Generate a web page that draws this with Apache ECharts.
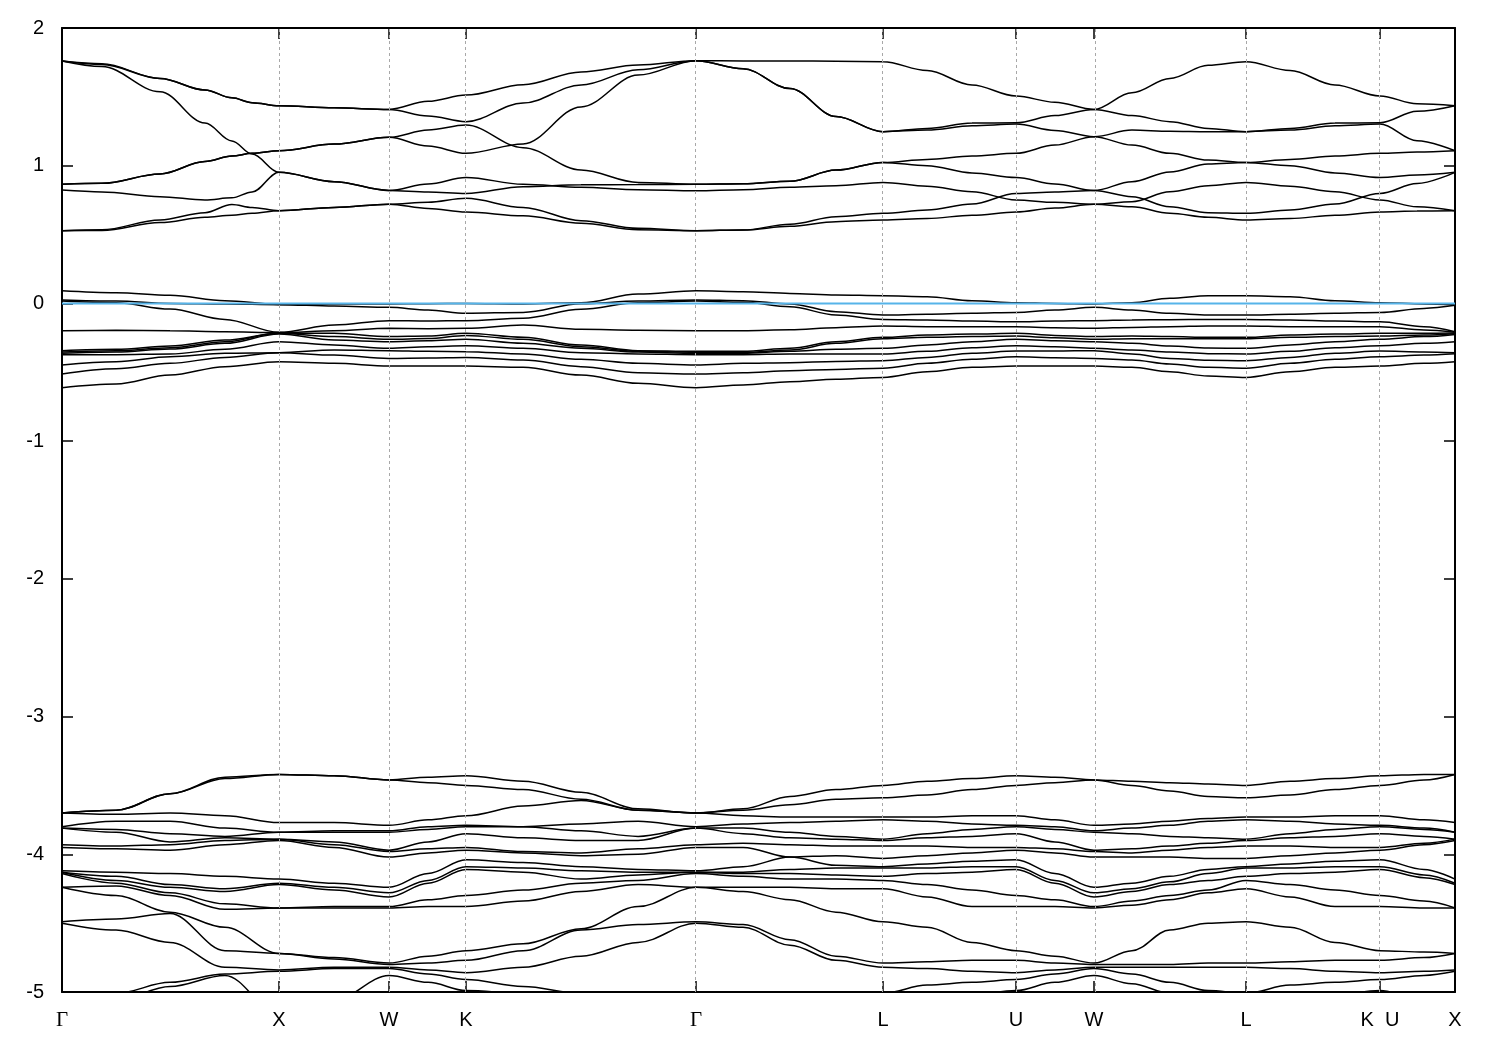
<!DOCTYPE html>
<html><head><meta charset="utf-8">
<script src="https://cdn.jsdelivr.net/npm/echarts@6/dist/echarts.min.js"></script>
<style>html,body{margin:0;padding:0;background:#fff}#c{width:1500px;height:1050px}</style>
</head><body><div id="c"></div>
<script>
// high-symmetry points along the path (K and U share one position)
const symK = [0, 1.000, 1.507, 1.862, 2.922, 3.784, 4.397, 4.756, 5.457, 6.074, 6.420];
const symLabels = ['Γ','X','W','K','Γ','L','U','W','L','K  U','X'];
const fermiLevel = 0;
const yMin = -5, yMax = 2, yStep = 1;

// k positions for the upper (conduction) group
const kTop = [0,0.184,0.452,0.659,0.783,0.876,1.000,1.254,1.507,1.687,1.862,2.125,2.392,2.655,2.922,3.139,3.355,3.567,3.784,3.987,4.194,4.397,4.576,4.756,4.931,5.106,5.282,5.457,5.660,5.867,6.074,6.245,6.420];
// upper group, one array per band (eV)
const eTopA1 = [1.760,1.735,1.634,1.550,1.493,1.458,1.436,1.420,1.409,1.468,1.513,1.588,1.681,1.731,1.763,1.761,1.761,1.758,1.755,1.691,1.586,1.506,1.461,1.409,1.530,1.634,1.729,1.755,1.691,1.586,1.506,1.450,1.436];
const eTopA2 = [1.760,1.740,1.634,1.550,1.493,1.458,1.436,1.420,1.409,1.361,1.320,1.455,1.586,1.697,1.763,1.704,1.560,1.357,1.247,1.270,1.310,1.312,1.364,1.409,1.364,1.320,1.270,1.247,1.270,1.310,1.312,1.395,1.436];
const eTopB  = [1.760,1.720,1.537,1.310,1.180,1.085,0.952,0.884,0.820,0.867,0.915,0.865,0.843,0.826,0.818,0.826,0.843,0.855,0.879,0.851,0.811,0.751,0.734,0.720,0.739,0.811,0.855,0.879,0.851,0.811,0.751,0.702,0.673];
const eTopC1 = [0.865,0.872,0.940,1.030,1.070,1.090,1.109,1.157,1.206,1.259,1.295,1.131,0.969,0.879,0.865,0.869,0.887,0.968,1.024,1.046,1.070,1.090,1.150,1.211,1.150,1.090,1.041,1.024,1.046,1.070,1.090,1.099,1.109];
const eTopC2 = [0.865,0.872,0.940,1.030,1.070,1.090,1.109,1.157,1.206,1.143,1.090,1.158,1.427,1.658,1.763,1.704,1.560,1.357,1.247,1.259,1.290,1.302,1.256,1.211,1.259,1.250,1.246,1.247,1.259,1.290,1.302,1.181,1.109];
const eTopD  = [0.823,0.810,0.775,0.751,0.767,0.810,0.952,0.884,0.820,0.809,0.799,0.848,0.862,0.863,0.865,0.869,0.887,0.968,1.024,1.000,0.948,0.915,0.867,0.820,0.884,0.955,1.012,1.024,1.000,0.948,0.915,0.932,0.952];
const eTopE  = [0.528,0.535,0.606,0.659,0.719,0.697,0.673,0.697,0.720,0.734,0.763,0.697,0.601,0.545,0.528,0.533,0.575,0.630,0.654,0.678,0.722,0.799,0.809,0.820,0.775,0.702,0.659,0.654,0.678,0.722,0.799,0.871,0.952];
const eTopF  = [0.528,0.530,0.587,0.625,0.641,0.654,0.673,0.697,0.720,0.690,0.664,0.636,0.582,0.535,0.528,0.533,0.560,0.594,0.606,0.617,0.640,0.664,0.693,0.720,0.702,0.654,0.625,0.606,0.617,0.640,0.664,0.671,0.673];

// k positions for the middle and lower groups
const kMain = [0,0.249,0.498,0.751,1.000,1.254,1.507,1.687,1.862,2.125,2.392,2.655,2.922,3.139,3.355,3.567,3.784,3.987,4.194,4.397,4.576,4.756,4.931,5.106,5.282,5.457,5.660,5.867,6.074,6.277,6.420];

// middle group (near the Fermi level), one array per band
const eMid1 = [0.092,0.078,0.059,0.020,-0.007,-0.004,-0.004,-0.002,0.000,-0.004,0.005,0.068,0.092,0.085,0.073,0.061,0.056,0.049,0.020,0.005,0.000,-0.004,0.005,0.037,0.056,0.056,0.049,0.020,0.005,-0.004,-0.009];
const eMid2 = [0.025,0.017,0.000,-0.004,-0.009,-0.019,-0.028,-0.048,-0.072,-0.065,-0.002,0.017,0.025,0.020,-0.004,-0.060,-0.084,-0.079,-0.072,-0.065,-0.048,-0.028,-0.048,-0.072,-0.084,-0.084,-0.079,-0.072,-0.065,-0.036,-0.014];
const eMid3 = [0.017,0.005,-0.041,-0.116,-0.210,-0.157,-0.125,-0.128,-0.125,-0.108,-0.043,0.005,0.017,0.008,-0.024,-0.084,-0.116,-0.120,-0.128,-0.133,-0.128,-0.125,-0.120,-0.118,-0.116,-0.116,-0.120,-0.128,-0.133,-0.169,-0.205];
const eMid4 = [-0.198,-0.195,-0.198,-0.205,-0.212,-0.198,-0.181,-0.183,-0.181,-0.157,-0.188,-0.195,-0.198,-0.198,-0.191,-0.176,-0.164,-0.169,-0.169,-0.169,-0.176,-0.181,-0.174,-0.169,-0.164,-0.164,-0.169,-0.169,-0.169,-0.193,-0.210];
const eMid5 = [-0.343,-0.333,-0.309,-0.266,-0.217,-0.217,-0.241,-0.237,-0.217,-0.246,-0.302,-0.343,-0.348,-0.348,-0.326,-0.278,-0.246,-0.229,-0.222,-0.217,-0.232,-0.241,-0.237,-0.241,-0.246,-0.246,-0.229,-0.222,-0.217,-0.217,-0.215];
const eMid6 = [-0.353,-0.343,-0.321,-0.278,-0.217,-0.241,-0.261,-0.254,-0.232,-0.261,-0.314,-0.348,-0.355,-0.355,-0.338,-0.290,-0.256,-0.246,-0.241,-0.237,-0.249,-0.261,-0.256,-0.256,-0.256,-0.256,-0.246,-0.241,-0.237,-0.229,-0.220];
const eMid7 = [-0.362,-0.353,-0.331,-0.290,-0.222,-0.266,-0.278,-0.271,-0.261,-0.290,-0.326,-0.353,-0.362,-0.362,-0.348,-0.333,-0.326,-0.302,-0.278,-0.261,-0.271,-0.278,-0.290,-0.309,-0.324,-0.326,-0.302,-0.278,-0.261,-0.241,-0.225];
const eMid8 = [-0.372,-0.372,-0.367,-0.333,-0.278,-0.302,-0.326,-0.314,-0.307,-0.326,-0.358,-0.367,-0.372,-0.372,-0.367,-0.367,-0.367,-0.348,-0.321,-0.307,-0.314,-0.326,-0.338,-0.353,-0.365,-0.367,-0.348,-0.321,-0.307,-0.290,-0.278];
const eMid9 = [-0.447,-0.423,-0.387,-0.362,-0.358,-0.338,-0.343,-0.348,-0.350,-0.367,-0.406,-0.435,-0.447,-0.435,-0.430,-0.421,-0.416,-0.392,-0.362,-0.346,-0.346,-0.343,-0.367,-0.399,-0.413,-0.416,-0.392,-0.362,-0.346,-0.353,-0.358];
const eMid10 = [-0.513,-0.474,-0.435,-0.392,-0.358,-0.375,-0.399,-0.396,-0.392,-0.411,-0.459,-0.503,-0.513,-0.503,-0.488,-0.479,-0.471,-0.435,-0.406,-0.387,-0.394,-0.399,-0.411,-0.440,-0.464,-0.471,-0.435,-0.406,-0.387,-0.375,-0.365];
const eMid11 = [-0.612,-0.585,-0.520,-0.459,-0.423,-0.435,-0.454,-0.454,-0.454,-0.464,-0.520,-0.580,-0.612,-0.592,-0.568,-0.551,-0.537,-0.496,-0.464,-0.454,-0.454,-0.454,-0.464,-0.496,-0.527,-0.537,-0.496,-0.464,-0.454,-0.435,-0.423];

// lower group: energies (eV) at each kMain point, 18 bands (values below -5 fall outside the frame)
const eLowCols = [
[-3.70,-3.70,-3.70,-3.80,-3.81,-3.81,-3.93,-3.95,-4.12,-4.13,-4.13,-4.14,-4.24,-4.24,-4.49,-4.50,-5.11,-5.16],
[-3.68,-3.68,-3.71,-3.76,-3.82,-3.84,-3.94,-3.96,-4.13,-4.16,-4.19,-4.21,-4.23,-4.30,-4.47,-4.55,-5.01,-5.06],
[-3.56,-3.56,-3.70,-3.76,-3.85,-3.91,-3.93,-3.97,-4.14,-4.22,-4.24,-4.28,-4.30,-4.42,-4.43,-4.64,-4.93,-4.96],
[-3.44,-3.45,-3.72,-3.81,-3.87,-3.88,-3.90,-3.93,-4.16,-4.25,-4.27,-4.36,-4.40,-4.53,-4.70,-4.82,-4.87,-4.88],
[-3.42,-3.42,-3.77,-3.84,-3.84,-3.89,-3.89,-3.90,-4.18,-4.21,-4.22,-4.39,-4.39,-4.72,-4.72,-4.84,-4.85,-5.16],
[-3.43,-3.43,-3.77,-3.83,-3.84,-3.91,-3.93,-3.95,-4.21,-4.24,-4.26,-4.38,-4.39,-4.75,-4.76,-4.82,-4.83,-5.06],
[-3.46,-3.46,-3.79,-3.83,-3.84,-3.97,-3.98,-4.02,-4.24,-4.28,-4.31,-4.38,-4.39,-4.79,-4.80,-4.82,-4.83,-4.88],
[-3.44,-3.48,-3.75,-3.80,-3.82,-3.91,-3.96,-3.99,-4.14,-4.19,-4.21,-4.33,-4.38,-4.74,-4.79,-4.84,-4.87,-4.93],
[-3.43,-3.50,-3.72,-3.79,-3.80,-3.85,-3.95,-3.97,-4.04,-4.09,-4.11,-4.30,-4.38,-4.70,-4.77,-4.86,-4.91,-4.99],
[-3.47,-3.53,-3.65,-3.80,-3.80,-3.88,-3.98,-3.99,-4.06,-4.10,-4.13,-4.26,-4.34,-4.65,-4.70,-4.82,-4.96,-5.01],
[-3.55,-3.60,-3.61,-3.78,-3.83,-3.90,-3.99,-4.01,-4.09,-4.12,-4.18,-4.21,-4.27,-4.54,-4.55,-4.74,-5.01,-5.06],
[-3.67,-3.68,-3.68,-3.76,-3.87,-3.90,-3.96,-4.00,-4.11,-4.13,-4.15,-4.19,-4.22,-4.38,-4.51,-4.64,-5.06,-5.11],
[-3.70,-3.70,-3.70,-3.80,-3.81,-3.81,-3.93,-3.95,-4.12,-4.13,-4.13,-4.14,-4.24,-4.24,-4.49,-4.50,-5.11,-5.16],
[-3.67,-3.68,-3.72,-3.78,-3.81,-3.85,-3.92,-3.95,-4.09,-4.13,-4.14,-4.16,-4.24,-4.27,-4.51,-4.53,-5.07,-5.13],
[-3.58,-3.64,-3.73,-3.77,-3.84,-3.88,-3.93,-4.02,-4.02,-4.11,-4.14,-4.18,-4.24,-4.33,-4.62,-4.66,-5.04,-5.12],
[-3.53,-3.60,-3.73,-3.76,-3.87,-3.89,-3.94,-4.01,-4.08,-4.10,-4.15,-4.18,-4.25,-4.42,-4.74,-4.77,-5.02,-5.11],
[-3.50,-3.59,-3.73,-3.75,-3.89,-3.90,-3.94,-4.03,-4.09,-4.10,-4.16,-4.19,-4.25,-4.49,-4.79,-4.82,-5.01,-5.11],
[-3.47,-3.57,-3.73,-3.76,-3.85,-3.88,-3.94,-4.01,-4.07,-4.10,-4.14,-4.22,-4.31,-4.53,-4.78,-4.83,-4.95,-5.06],
[-3.45,-3.53,-3.72,-3.78,-3.82,-3.87,-3.95,-3.99,-4.05,-4.09,-4.13,-4.26,-4.38,-4.64,-4.77,-4.85,-4.93,-5.02],
[-3.43,-3.50,-3.72,-3.79,-3.80,-3.85,-3.95,-3.97,-4.04,-4.09,-4.11,-4.30,-4.38,-4.70,-4.77,-4.86,-4.91,-4.99],
[-3.44,-3.48,-3.75,-3.80,-3.82,-3.91,-3.96,-3.99,-4.14,-4.19,-4.21,-4.33,-4.38,-4.74,-4.79,-4.84,-4.87,-4.93],
[-3.46,-3.46,-3.79,-3.83,-3.84,-3.97,-3.98,-4.02,-4.24,-4.28,-4.31,-4.38,-4.39,-4.79,-4.80,-4.82,-4.83,-4.88],
[-3.47,-3.50,-3.78,-3.81,-3.85,-3.96,-3.99,-4.02,-4.21,-4.25,-4.27,-4.34,-4.37,-4.70,-4.80,-4.82,-4.87,-4.94],
[-3.48,-3.54,-3.76,-3.79,-3.87,-3.94,-3.97,-4.02,-4.16,-4.20,-4.22,-4.30,-4.33,-4.55,-4.80,-4.82,-4.93,-5.01],
[-3.49,-3.58,-3.74,-3.76,-3.88,-3.92,-3.95,-4.03,-4.11,-4.14,-4.19,-4.26,-4.28,-4.50,-4.79,-4.82,-4.99,-5.07],
[-3.50,-3.59,-3.73,-3.75,-3.89,-3.90,-3.94,-4.03,-4.09,-4.10,-4.16,-4.19,-4.25,-4.49,-4.79,-4.82,-5.01,-5.11],
[-3.47,-3.57,-3.73,-3.76,-3.85,-3.88,-3.94,-4.01,-4.07,-4.10,-4.14,-4.22,-4.31,-4.53,-4.78,-4.83,-4.95,-5.06],
[-3.45,-3.53,-3.72,-3.78,-3.82,-3.87,-3.95,-3.99,-4.05,-4.09,-4.13,-4.26,-4.38,-4.64,-4.77,-4.85,-4.93,-5.02],
[-3.43,-3.50,-3.72,-3.79,-3.80,-3.85,-3.95,-3.97,-4.04,-4.09,-4.11,-4.30,-4.38,-4.70,-4.77,-4.86,-4.91,-4.99],
[-3.42,-3.46,-3.75,-3.81,-3.82,-3.87,-3.92,-3.93,-4.11,-4.15,-4.17,-4.34,-4.39,-4.71,-4.75,-4.85,-4.88,-5.06],
[-3.42,-3.42,-3.77,-3.84,-3.84,-3.89,-3.89,-3.90,-4.18,-4.21,-4.22,-4.39,-4.39,-4.72,-4.72,-4.84,-4.85,-5.16]
];

const FONT = 'Liberation Sans';
function colsToBands(cols){
  const n = cols[0].length, out = [];
  for (let b = 0; b < n; b++) out.push(cols.map(c => c[b]));
  return out;
}
const bandStyle = {type:'line', showSymbol:false, smooth:0.35, smoothMonotone:'x', silent:true, animation:false,
  lineStyle:{color:'#000', width:1.5}, z:3};
const series = [];
function addBands(kArr, bands){
  bands.forEach(b => series.push(Object.assign({}, bandStyle, {data: b.map((e,i)=>[kArr[i], e])})));
}
addBands(kTop, [eTopA1,eTopA2,eTopB,eTopC1,eTopC2,eTopD,eTopE,eTopF]);
addBands(kMain, [eMid1,eMid2,eMid3,eMid4,eMid5,eMid6,eMid7,eMid8,eMid9,eMid10,eMid11]);
addBands(kMain, colsToBands(eLowCols));

const kMin = symK[0], kMax = symK[symK.length-1];
// vertical dashed guides at interior symmetry points
series.push({type:'line', data:[], silent:true, animation:false, z:1,
  markLine:{silent:true, animation:false, symbol:['none','none'], label:{show:false},
    lineStyle:{color:'#a8a8a8', type:[3,3], width:1},
    data: symK.slice(1,-1).map(k => ({xAxis:k}))}});
// Fermi level
series.push({type:'line', data:[[kMin,fermiLevel],[kMax,fermiLevel]], showSymbol:false, silent:true, animation:false,
  lineStyle:{color:'#56b4e9', width:2}, z:5});

const axisLineStyle = {show:true, onZero:false, lineStyle:{color:'#000', width:2}};
const tickStyle = {color:'#000', width:1.5};
function xLabel(v){
  let best = 0, bd = 1e9;
  symK.forEach((k,i)=>{ const d = Math.abs(k - v); if (d < bd){ bd = d; best = i; } });
  const s = symLabels[best];
  return s === 'Γ' ? '{g|Γ}' : s;
}
const chart = echarts.init(document.getElementById('c'), null, {renderer:'canvas'});
chart.setOption({
  backgroundColor:'#fff',
  animation:false,
  grid:{left:62, right:45, top:28, bottom:58, containLabel:false},
  xAxis:[
    {type:'value', min:kMin, max:kMax, position:'bottom', axisLine:axisLineStyle,
      axisTick:{show:true, inside:true, length:11, customValues:symK.slice(1,-1), lineStyle:tickStyle},
      axisLabel:{show:true, customValues:symK, formatter:xLabel, margin:18, color:'#000', fontSize:20, fontFamily:FONT,
        rich:{g:{fontFamily:'Liberation Serif', fontSize:21, color:'#000'}}},
      splitLine:{show:false}},
    {type:'value', min:kMin, max:kMax, position:'top', axisLine:axisLineStyle,
      axisTick:{show:true, inside:true, length:11, customValues:symK.slice(1,-1), lineStyle:tickStyle},
      axisLabel:{show:false}, splitLine:{show:false}}
  ],
  yAxis:[
    {type:'value', min:yMin, max:yMax, interval:yStep, position:'left', axisLine:axisLineStyle,
      axisTick:{show:true, inside:true, length:11, lineStyle:tickStyle},
      axisLabel:{margin:18, color:'#000', fontSize:20, fontFamily:FONT}, splitLine:{show:false}},
    {type:'value', min:yMin, max:yMax, interval:yStep, position:'right', axisLine:axisLineStyle,
      axisTick:{show:true, inside:true, length:11, lineStyle:tickStyle},
      axisLabel:{show:false}, splitLine:{show:false}}
  ],
  series: series
});
</script></body></html>
